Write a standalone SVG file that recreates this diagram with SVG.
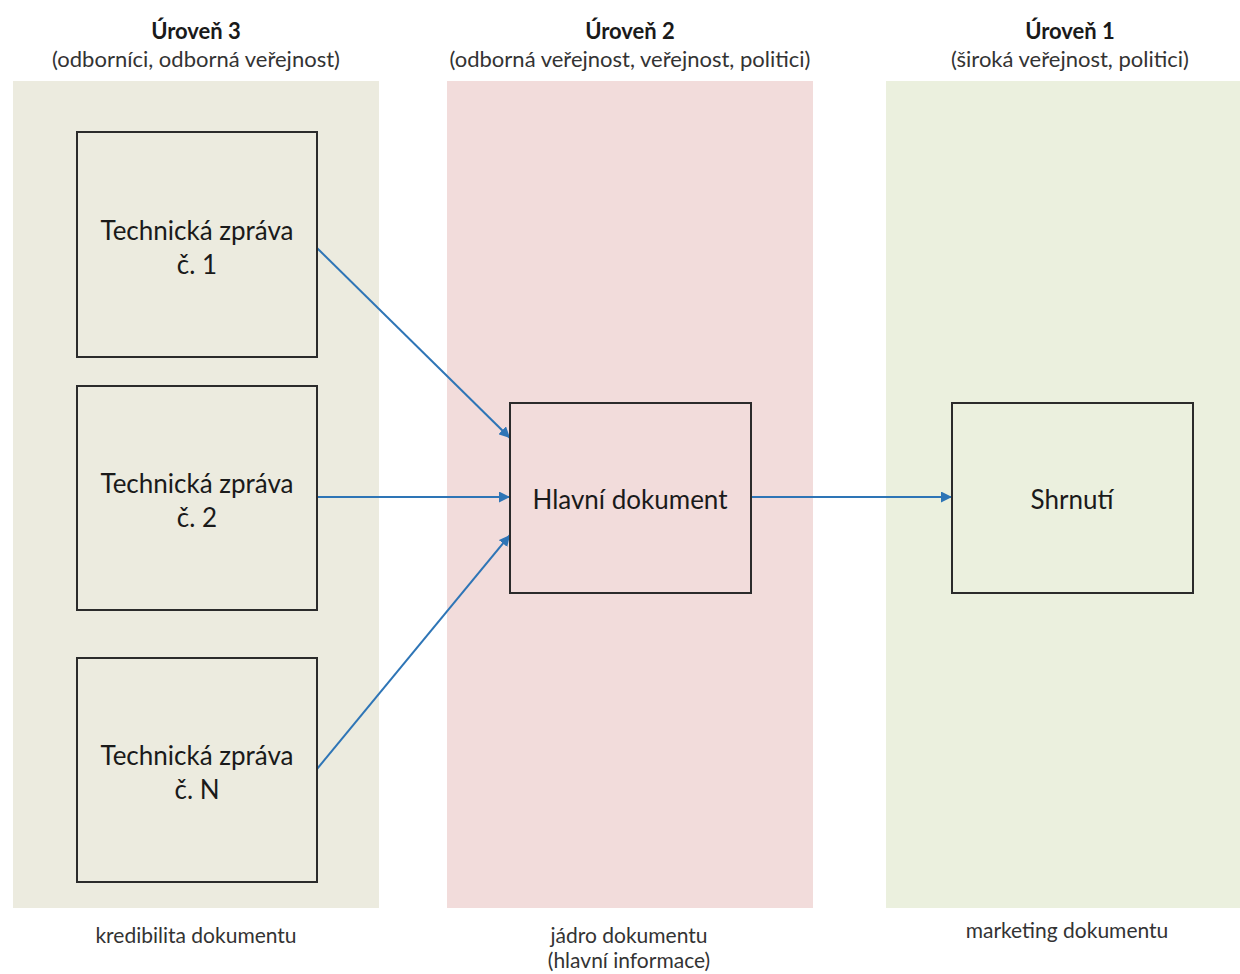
<svg xmlns="http://www.w3.org/2000/svg" width="1240" height="974" viewBox="0 0 1240 974">
<style>
text{font-family:Lato,"Open Sans","Liberation Sans",sans-serif;fill:#1a1a1a;text-anchor:middle}
.h{font-weight:bold;font-size:22px}
.s{font-size:22px;fill:#333}
.n{font-size:26px}
.b{font-size:21px;fill:#333}
.box{stroke:#2b2b2b;stroke-width:2}
.c{stroke:#2e75b6;stroke-width:2;fill:none;marker-end:url(#ah)}
</style>
<defs>
<marker id="ah" viewBox="0 0 10 10" refX="10" refY="5" markerWidth="5.5" markerHeight="5.5" orient="auto" markerUnits="strokeWidth">
<path d="M0,0 L10,5 L0,10 z" fill="#2e75b6"/>
</marker>
</defs>
<rect width="1240" height="974" fill="#fff"/>
<g id="columns">
<rect x="13" y="81" width="366" height="827" fill="#ecebdf"/>
<rect x="447" y="81" width="366" height="827" fill="#f2dcdb"/>
<rect x="886" y="81" width="354" height="827" fill="#ebf0de"/>
</g>
<g id="headers">
<text class="h" x="196" y="39">Úroveň 3</text>
<text class="s" x="196" y="67">(odborníci, odborná veřejnost)</text>
<text class="h" x="630" y="39">Úroveň 2</text>
<text class="s" x="630" y="67">(odborná veřejnost, veřejnost, politici)</text>
<text class="h" x="1070" y="39">Úroveň 1</text>
<text class="s" x="1070" y="67">(široká veřejnost, politici)</text>
</g>
<g id="footers">
<text class="b" x="196" y="943">kredibilita dokumentu</text>
<text class="b" x="629" y="943">jádro dokumentu</text>
<text class="b" x="629" y="968">(hlavní informace)</text>
<text class="b" x="1067" y="938">marketing dokumentu</text>
</g>
<g id="connectors">
<line class="c" x1="317" y1="248" x2="510" y2="438"/>
<line class="c" x1="317" y1="497" x2="510" y2="497"/>
<line class="c" x1="317" y1="769" x2="510" y2="535"/>
<line class="c" x1="751" y1="497" x2="952" y2="497"/>
</g>
<g id="tz1">
<rect class="box" x="77" y="132" width="240" height="225" fill="#ecebdf"/>
<text class="n" x="197" y="240">Technická zpráva</text>
<text class="n" x="197" y="274">č. 1</text>
</g>
<g id="tz2">
<rect class="box" x="77" y="386" width="240" height="224" fill="#ecebdf"/>
<text class="n" x="197" y="493">Technická zpráva</text>
<text class="n" x="197" y="527">č. 2</text>
</g>
<g id="tzn">
<rect class="box" x="77" y="658" width="240" height="224" fill="#ecebdf"/>
<text class="n" x="197" y="765">Technická zpráva</text>
<text class="n" x="197" y="799">č. N</text>
</g>
<g id="hlavni">
<rect class="box" x="510" y="403" width="241" height="190" fill="#f2dcdb"/>
<text class="n" x="630" y="509">Hlavní dokument</text>
</g>
<g id="shrnuti">
<rect class="box" x="952" y="403" width="241" height="190" fill="#ebf0de"/>
<text class="n" x="1072" y="509">Shrnutí</text>
</g>
</svg>
